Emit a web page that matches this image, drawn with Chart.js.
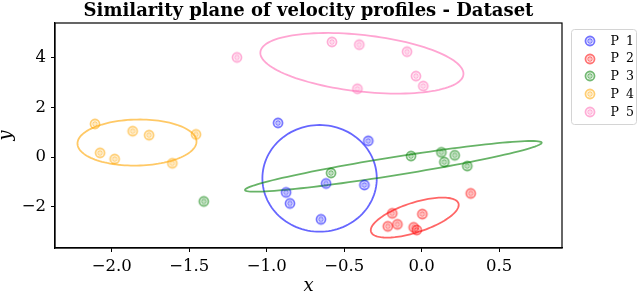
<!DOCTYPE html>
<html>
<head>
<meta charset="utf-8">
<script src="https://cdn.jsdelivr.net/npm/chart.js@4.4.1/dist/chart.umd.min.js"></script>
<style>
  html, body { margin: 0; padding: 0; background: #fff; }
</style>
</head>
<body>
<canvas id="myChart" width="640" height="295"></canvas>
<script>
// profiles and their points in the similarity plane
const profiles = ['P 1', 'P 2', 'P 3', 'P 4', 'P 5'];

const p1x = [-0.927, -0.345, -0.617, -0.37, -0.65, -0.875, -0.85];
const p1y = [1.37, 0.65, -1.06, -1.12, -2.5, -1.42, -1.86];
const p2x = [0.316, -0.19, 0.004, -0.219, -0.157, -0.052, -0.032];
const p2y = [-1.46, -2.26, -2.29, -2.78, -2.7, -2.82, -2.93];
const p3x = [-1.406, -0.585, -0.069, 0.127, 0.213, 0.146, 0.294];
const p3y = [-1.78, -0.64, 0.04, 0.19, 0.07, -0.2, -0.36];
const p4x = [-2.108, -1.865, -1.759, -1.456, -2.075, -1.981, -1.609];
const p4y = [1.33, 1.04, 0.88, 0.91, 0.17, -0.08, -0.25];
const p5x = [-1.192, -0.579, -0.403, -0.095, -0.037, 0.01, -0.415];
const p5y = [4.0, 4.62, 4.51, 4.23, 3.25, 2.85, 2.74];

// confidence ellipses: centre and two conjugate half axes (data units)
const ellCx = [-0.659, -0.045, -0.183, -1.837, -0.386];
const ellCy = [-0.855, -2.43, -0.373, 0.582, 3.763];
const ellUx = [0.369, 0.282, 0.957, 0.384, 0.655];
const ellUy = [0, 0.57, 0.952, 0.04, -0.454];
const ellVx = [0, 0.03, 0.0094, 0, -0.02];
const ellVy = [-2.141, -0.566, -0.361, -0.924, -1.129];

const xTicks = [-2.0, -1.5, -1.0, -0.5, 0.0, 0.5];
const yTicks = [-2, 0, 2, 4];

const colors = ['0,0,255', '255,0,0', '0,128,0', '255,165,0', '255,105,180'];
const FONT = 'DejaVu Serif';

function makeMarker(rgb) {
  const c = document.createElement('canvas');
  c.width = 14;
  c.height = 14;
  const g = c.getContext('2d');
  g.strokeStyle = 'rgba(' + rgb + ',0.55)';
  g.fillStyle = 'rgba(' + rgb + ',0.55)';
  g.lineWidth = 1.8;
  g.beginPath();
  g.arc(7, 7, 4.5, 0, Math.PI * 2);
  g.stroke();
  g.lineWidth = 1.1;
  g.beginPath();
  g.arc(7, 7, 2.1, 0, Math.PI * 2);
  g.stroke();
  g.beginPath();
  g.arc(7, 7, 0.8, 0, Math.PI * 2);
  g.fill();
  return c;
}
const markers = colors.map(makeMarker);

function pts(xs, ys) {
  return xs.map((x, i) => ({ x: x, y: ys[i] }));
}
const series = [pts(p1x, p1y), pts(p2x, p2y), pts(p3x, p3y), pts(p4x, p4y), pts(p5x, p5y)];

function fmt(v, d) {
  const s = Math.abs(v).toFixed(d);
  return v < 0 ? '\u2212' + s : s;
}

const ellipsePlugin = {
  id: 'ellipses',
  beforeDatasetsDraw(chart) {
    const { ctx, scales } = chart;
    ctx.save();
    ctx.lineWidth = 1.8;
    for (let i = 0; i < ellCx.length; i++) {
      ctx.strokeStyle = 'rgba(' + colors[i] + ',0.6)';
      ctx.beginPath();
      for (let k = 0; k <= 120; k++) {
        const t = (k / 120) * Math.PI * 2;
        const x = ellCx[i] + ellUx[i] * Math.cos(t) + ellVx[i] * Math.sin(t);
        const y = ellCy[i] + ellUy[i] * Math.cos(t) + ellVy[i] * Math.sin(t);
        const px = scales.x.getPixelForValue(x);
        const py = scales.y.getPixelForValue(y);
        if (k === 0) ctx.moveTo(px, py);
        else ctx.lineTo(px, py);
      }
      ctx.closePath();
      ctx.stroke();
    }
    ctx.restore();
  },
};

const framePlugin = {
  id: 'frame',
  afterDraw(chart) {
    const { ctx, chartArea: a } = chart;
    ctx.save();
    ctx.strokeStyle = '#000';
    ctx.lineWidth = 1.2;
    ctx.strokeRect(a.left, a.top, a.right - a.left, a.bottom - a.top);

    // legend box to the right of the axes
    const bx = a.right + 9.5;
    const by = 29.5;
    ctx.strokeStyle = '#d4d4d4';
    ctx.lineWidth = 1;
    ctx.beginPath();
    ctx.roundRect(bx, by, 65, 95, 3);
    ctx.stroke();
    ctx.fillStyle = '#000';
    ctx.font = '12.5px "' + FONT + '"';
    ctx.textBaseline = 'middle';
    ctx.wordSpacing = '3px';
    chart.data.datasets.forEach((ds, i) => {
      const y = by + 11.5 + i * 17.7;
      const m = markers[i];
      ctx.drawImage(m, Math.round(bx + 18.5 - m.width / 2), Math.round(y - m.height / 2));
      ctx.fillText(ds.label, bx + 39, y + 0.5);
    });
    ctx.restore();
  },
};

new Chart(document.getElementById('myChart'), {
  type: 'scatter',
  data: {
    datasets: series.map((d, i) => ({
      label: profiles[i],
      data: d,
      pointStyle: markers[i],
      pointRadius: 5,
    })),
  },
  options: {
    responsive: false,
    animation: false,
    layout: { padding: { left: 0, top: 0, right: 78, bottom: 0 } },
    plugins: {
      legend: { display: false },
      tooltip: { enabled: false },
      title: {
        display: true,
        fullSize: false,
        text: 'Similarity plane of velocity profiles - Dataset',
        color: '#000',
        font: { family: FONT, size: 18, weight: 'bold', lineHeight: 23 / 18 },
        padding: { top: 0, bottom: 0 },
      },
    },
    scales: {
      x: {
        type: 'linear',
        min: -2.366,
        max: 0.905,
        afterBuildTicks: (s) => { s.ticks = xTicks.map((v) => ({ value: v })); },
        afterFit: (s) => { s.height = 47; },
        ticks: {
          color: '#000',
          padding: 5,
          font: { family: FONT, size: 16.5 },
          callback: (v) => fmt(v, 1),
        },
        grid: { drawOnChartArea: false, tickLength: 4, color: '#000' },
        border: { color: '#000', width: 1.2 },
        title: {
          display: true,
          text: 'x',
          color: '#000',
          font: { family: FONT, size: 18, style: 'italic', lineHeight: 1 },
          padding: 0,
        },
      },
      y: {
        type: 'linear',
        min: -3.65,
        max: 5.38,
        afterBuildTicks: (s) => { s.ticks = yTicks.map((v) => ({ value: v })); },
        afterFit: (s) => { s.width = 55; },
        ticks: {
          color: '#000',
          padding: 5,
          font: { family: FONT, size: 16.5 },
          callback: (v) => fmt(v, 0),
        },
        grid: { drawOnChartArea: false, tickLength: 4, color: '#000' },
        border: { color: '#000', width: 1.2 },
        title: {
          display: true,
          text: 'y',
          color: '#000',
          font: { family: FONT, size: 18, style: 'italic', lineHeight: 0.7 },
          padding: 0,
        },
      },
    },
  },
  plugins: [ellipsePlugin, framePlugin],
});
</script>
</body>
</html>
